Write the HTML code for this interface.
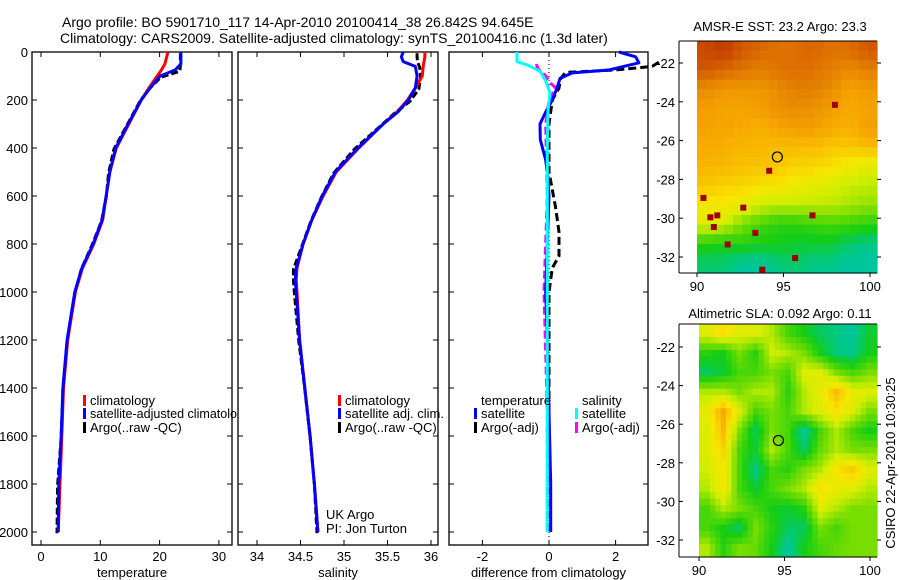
<!DOCTYPE html>
<html><head><meta charset="utf-8"><style>
html,body{margin:0;padding:0;background:#fff;}
svg{display:block;font-family:"Liberation Sans",sans-serif;}
</style></head><body>
<svg id="fig" width="900" height="580" viewBox="0 0 900 580">
<text x="62" y="27" font-size="14">Argo profile: BO 5901710_117 14-Apr-2010 20100414_38 26.842S 94.645E</text>
<text x="60" y="43" font-size="14">Climatology: CARS2009. Satellite-adjusted climatology: synTS_20100416.nc (1.3d later)</text>
<g id="layer"></g>
</svg>
<script>
// ---------- data ----------
const depthTicks=[0,200,400,600,800,1000,1200,1400,1600,1800,2000];
const tempTicks=[0,10,20,30];
const salTicks=[34,34.5,35,35.5,36];
const salTickLabels=["34","34.5","35","35.5","36"];
const diffTicks=[-2,0,2];
const tDepth=[0,50,75,100,150,200,300,400,500,600,700,800,900,1000,1200,1400,1600,1800,2000];
const tempSat=[23.6,23.6,22.6,20.1,18.4,16.9,14.7,12.6,11.6,11.0,10.3,8.8,6.9,5.7,4.4,3.7,3.4,3.0,2.9];
const tempClim=[21.4,20.9,20.3,19.6,18.2,16.9,14.8,12.7,11.6,11.0,10.4,8.9,7.0,5.8,4.5,3.8,3.5,3.2,2.9];
const tempArgo=[23.5,23.5,23.4,20.2,18.2,16.7,14.5,12.3,11.4,11.0,10.2,8.6,6.8,5.7,4.4,3.7,3.4,2.8,2.7];
const sDepth=[0,20,40,60,100,150,200,250,300,400,500,600,700,800,900,950,1000,1200,1400,1600,1800,2000];
const salSat=[35.68,35.66,35.68,35.82,35.84,35.82,35.74,35.62,35.45,35.16,34.90,34.75,34.63,34.53,34.45,34.44,34.45,34.49,34.55,34.61,34.66,34.70];
const salClim=[35.93,35.93,35.92,35.91,35.90,35.82,35.73,35.61,35.45,35.17,34.91,34.76,34.63,34.53,34.46,34.45,34.46,34.49,34.55,34.61,34.66,34.70];
const salArgo=[35.84,35.84,35.85,35.87,35.88,35.86,35.76,35.58,35.43,35.12,34.88,34.74,34.62,34.52,34.42,34.42,34.43,34.48,34.55,34.61,34.66,34.69];
const dtDepth=[0,20,45,75,87,110,150,200,250,300,365,450,500,600,800,1000,1200,1500,1800,2000];
const dTSat=[2.1,2.6,2.7,1.8,0.7,0.33,0.24,0.1,-0.1,-0.27,-0.26,-0.1,-0.05,0,-0.05,-0.1,-0.05,0,0.05,0.05];
const dtaDepth=[42,60,75,85,110,150,200,300,500,650,750,850,900,1000,1500,2000];
const dTArgo=[3.3,3.1,2.0,0.5,0.35,0.3,0.1,0,0,0.2,0.3,0.3,0.1,0,0,0];
const dsDepth=[0,40,55,80,120,170,240,400,1000,2000];
const dSSat=[-0.96,-0.96,-0.63,-0.27,-0.1,0.03,-0.03,-0.05,-0.05,-0.05];
const dsaDepth=[50,70,100,130,150,200,300,600,1000,1500,2000];
const dSArgo=[-0.38,-0.33,-0.1,0.05,0.2,0,-0.1,-0.05,-0.15,-0.05,-0.05];
const sstTicksLat=[-22,-24,-26,-28,-30,-32];
const lonTicks=[90,95,100];
const sstGrid=[
[.9,.92,.88,.86,.84,.85,.86,.84,.85,.88],
[.88,.86,.84,.82,.84,.85,.84,.82,.8,.82],
[.8,.78,.78,.78,.8,.82,.82,.8,.76,.78],
[.77,.76,.76,.77,.79,.8,.79,.77,.75,.76],
[.76,.76,.75,.74,.76,.77,.77,.75,.74,.77],
[.75,.74,.73,.73,.72,.72,.72,.7,.7,.72],
[.73,.73,.71,.71,.7,.68,.68,.66,.63,.6],
[.7,.68,.68,.66,.65,.63,.61,.59,.57,.56],
[.64,.65,.62,.58,.56,.56,.56,.56,.54,.52],
[.6,.58,.5,.45,.42,.42,.44,.45,.44,.42],
[.42,.4,.42,.4,.4,.38,.38,.38,.34,.32],
[.34,.34,.3,.3,.33,.34,.32,.32,.3,.3]];
const sstSpecksLon=[90.2,90.6,92.5,91.0,93.2,90.8,91.6,95.5,97.8,94.0,96.5,93.6];
const sstSpecksLat=[-28.8,-29.8,-29.3,-29.7,-30.6,-30.3,-31.2,-31.9,-24.0,-27.4,-29.7,-32.5];
const slaGrid=[
[.6,.66,.6,.6,.55,.45,.4,.35,.33,.3,.38],
[.42,.4,.5,.42,.58,.55,.5,.4,.33,.32,.4],
[.35,.38,.45,.45,.5,.45,.6,.6,.5,.45,.5],
[.55,.55,.5,.55,.55,.42,.55,.62,.72,.62,.6],
[.62,.75,.6,.45,.5,.45,.55,.6,.66,.6,.5],
[.6,.72,.5,.35,.5,.45,.3,.45,.55,.45,.4],
[.6,.68,.45,.38,.55,.45,.35,.48,.55,.5,.5],
[.58,.65,.45,.32,.45,.42,.5,.55,.65,.7,.6],
[.55,.65,.45,.38,.45,.5,.55,.66,.62,.6,.55],
[.45,.55,.5,.45,.4,.38,.42,.6,.55,.5,.5],
[.45,.4,.35,.5,.42,.35,.35,.5,.45,.5,.5],
[.55,.42,.5,.48,.4,.3,.4,.45,.48,.5,.5]];
// ---------- helpers ----------
const NS="http://www.w3.org/2000/svg";
const layer=document.getElementById('layer');
function mk(tag,attrs,parent){const e=document.createElementNS(NS,tag);for(const k in attrs)e.setAttribute(k,attrs[k]);(parent||layer).appendChild(e);return e;}
const yTop=52, pxPerM=0.24, yBot=545;
const yD=d=>yTop+d*pxPerM;
const xT=v=>41+v*5.93;
const xS=v=>257+(v-34)*87;
const xDf=v=>549+v*33.3;
function line(xs,ds,xf,color,dash,name){
  let p=xs.map((v,i)=>xf(v).toFixed(1)+','+yD(ds[i]).toFixed(1)).join(' ');
  const e=mk('polyline',{points:p,fill:'none',stroke:color,'stroke-width':3,'stroke-linejoin':'round'});
  if(dash)e.setAttribute('stroke-dasharray',dash);
  
  
}
function panel(x0,x1,ticks,xf,labels,name,xlabel){
  const g=mk('g',{});
  
  
  mk('rect',{x:x0,y:yTop,width:x1-x0,height:yBot-yTop,fill:'none',stroke:'#000','stroke-width':1.3},g);
  ticks.forEach((t,i)=>{const x=xf(t);
    mk('line',{x1:x,x2:x,y1:yBot,y2:yBot-5,stroke:'#000'},g);
    mk('line',{x1:x,x2:x,y1:yTop,y2:yTop+5,stroke:'#000'},g);
    const tx=mk('text',{x:x,y:yBot+16,'font-size':13,'text-anchor':'middle'},g);tx.textContent=labels[i];
    
    
  });
  depthTicks.forEach(d=>{const y=yD(d);
    mk('line',{x1:x0,x2:x0+5,y1:y,y2:y,stroke:'#000'},g);
    mk('line',{x1:x1,x2:x1-5,y1:y,y2:y,stroke:'#000'},g);});
  const xl=mk('text',{x:(x0+x1)/2,y:577,'font-size':13,'text-anchor':'middle'},g);xl.textContent=xlabel;
  
  
}
panel(32,232,tempTicks,xT,tempTicks.map(String),'temperature-panel','temperature');
panel(238,438,salTicks,xS,salTickLabels,'salinity-panel','salinity');
panel(449,648,diffTicks,xDf,diffTicks.map(String),'difference-panel','difference from climatology');
depthTicks.forEach(d=>{const t=mk('text',{x:28,y:yD(d)+5,'font-size':13,'text-anchor':'end'});t.textContent=d;
  
  });
const zl=mk('line',{x1:549,x2:549,y1:yTop,y2:yBot,stroke:'#000','stroke-dasharray':'1,3'});


line(tempArgo,tDepth.map(d=>d+5),xT,'#000','7,3','temp-argo-line');
line(tempClim,tDepth,xT,'#f00',null,'temp-climatology-line');
line(tempSat,tDepth,xT,'#00f',null,'temp-satellite-line');
line(salArgo,sDepth.map(d=>d+5),xS,'#000','7,3','sal-argo-line');
line(salClim,sDepth,xS,'#f00',null,'sal-climatology-line');
line(salSat,sDepth,xS,'#00f',null,'sal-satellite-line');
line(dTArgo,dtaDepth,xDf,'#000','8,4','diff-temp-argo-line');
line(dSArgo,dsaDepth,xDf,'#f0f','8,4','diff-sal-argo-line');
line(dTSat,dtDepth,xDf,'#00f',null,'diff-temp-satellite-line');
line(dSSat,dsDepth,xDf,'#0ff',null,'diff-sal-satellite-line');
function leg(x,y,color,txt,name,clipW){
  const m=mk('rect',{x:x,y:y-10,width:3,height:11,fill:color});
  
  
  if(txt){const t=mk('text',{x:x+7,y:y,'font-size':13});t.textContent=txt;
  if(clipW)t.setAttribute('textLength',clipW),t.setAttribute('lengthAdjust','spacingAndGlyphs');
  
  }
}
leg(83,405,'#f00','climatology','legend-temp-climatology');
leg(83,418,'#00f','satellite-adjusted climatolo','legend-temp-satellite',147);
leg(83,432,'#000','Argo(..raw -QC)','legend-temp-argo');
leg(338,405,'#f00','climatology','legend-sal-climatology');
leg(338,418,'#00f','satellite adj. clim.','legend-sal-satellite');
leg(338,432,'#000','Argo(..raw -QC)','legend-sal-argo');
function txt(x,y,s,name,extra){const t=mk('text',Object.assign({x:x,y:y,'font-size':13},extra||{}));t.textContent=s;
  
  return t;}
txt(481,405,'temperature','legend-temp-heading');
txt(582,405,'salinity','legend-sal-heading');
leg(474,418,'#00f','satellite','legend-diff-temp-satellite');
leg(474,432,'#000','Argo(-adj)','legend-diff-temp-argo');
leg(575,418,'#0ff','satellite','legend-diff-sal-satellite');
leg(575,432,'#f0f','Argo(-adj)','legend-diff-sal-argo');
txt(326,519,'UK Argo','uk-argo-label');
txt(326,533,'PI: Jon Turton','pi-label');
const stops=[[0,[0,0,192]],[0.25,[0,190,200]],[0.32,[0,200,140]],[0.4,[20,205,20]],[0.5,[120,222,0]],[0.58,[210,238,0]],[0.65,[248,230,0]],[0.75,[248,170,0]],[0.85,[220,110,0]],[1,[165,0,0]]];
function cmap(v){for(let i=1;i<stops.length;i++){if(v<=stops[i][0]){const a=stops[i-1],b=stops[i],f=(v-a[0])/(b[0]-a[0]);
  return 'rgb('+a[1].map((c,k)=>Math.round(c+(b[1][k]-c)*f)).join(',')+')';}}return 'rgb(165,0,0)';}
function sample(grid,r,c){ // bilinear sample at fractional cell coords (cell centres)
  const R=grid.length,C=grid[0].length;
  r=Math.max(0,Math.min(R-1,r));c=Math.max(0,Math.min(C-1,c));
  const r0=Math.floor(r),c0=Math.floor(c),r1=Math.min(R-1,r0+1),c1=Math.min(C-1,c0+1),fr=r-r0,fc=c-c0;
  return grid[r0][c0]*(1-fr)*(1-fc)+grid[r0][c1]*(1-fr)*fc+grid[r1][c0]*fr*(1-fc)+grid[r1][c1]*fr*fc;
}
function map(box,lonX,latY,grid,name,title,titleY,sub){
  const g=mk('g',{});
  
  
  const rows=grid.length, cols=grid[0].length;
  const x0=lonX(90),x1=box.r,y0=box.t,y1=box.b;
  const cw=(x1-x0)/cols/sub, ch=(y1-y0)/rows/sub;
  for(let r=0;r<rows*sub;r++)for(let c=0;c<cols*sub;c++){
    const v=sub===1?grid[r][c]:sample(grid,(r+0.5)/sub-0.5,(c+0.5)/sub-0.5);
    const cell=mk('rect',{x:(x0+c*cw).toFixed(1),y:(y0+r*ch).toFixed(1),width:(cw+0.6).toFixed(1),height:(ch+0.6).toFixed(1),fill:cmap(v)},g);
    
    
  }
  mk('line',{x1:box.l,x2:box.r,y1:box.t,y2:box.t,stroke:'#000'},g);
  mk('line',{x1:box.l,x2:box.r,y1:box.b,y2:box.b,stroke:'#000'},g);
  mk('line',{x1:box.l,x2:box.l,y1:box.t,y2:box.b,stroke:'#000'},g);
  sstTicksLat.forEach(l=>{const y=latY(l);
    mk('line',{x1:box.l,x2:box.l+4,y1:y,y2:y,stroke:'#000'},g);
    mk('line',{x1:box.r,x2:box.r+4,y1:y,y2:y,stroke:'#000'},g);
    const t=mk('text',{x:box.l-4,y:y+5,'font-size':13,'text-anchor':'end'},g);t.textContent=l;
    
    });
  lonTicks.forEach(l=>{const x=lonX(l);
    mk('line',{x1:x,x2:x,y1:box.b,y2:box.b+4,stroke:'#000'},g);
    const t=mk('text',{x:x,y:box.b+18,'font-size':13,'text-anchor':'middle'},g);t.textContent=l;
    
    });
  const tt=mk('text',{x:780,y:titleY,'font-size':13,'text-anchor':'middle'},g);tt.textContent=title;
  
  
  return {g,lonX,latY};
}
function marker(m){const c=mk('circle',{cx:m.lonX(94.645),cy:m.latY(-26.842),r:5,fill:'none',stroke:'#000','stroke-width':1.2},m.g);
  
  }
const sstLonX=l=>697+(l-90)*17.3, sstLatY=l=>63+(-22-l)*19.4;
const sst=map({l:679,r:877,t:41,b:273},sstLonX,sstLatY,sstGrid,'sst-map','AMSR-E SST: 23.2  Argo: 23.3',31,2);
sstSpecksLon.forEach((lo,i)=>{const s=mk('rect',{x:sstLonX(lo),y:sstLatY(sstSpecksLat[i]),width:6,height:6,fill:'#a00000'},sst.g);
  
  });
marker(sst);
const sla=map({l:679,r:877,t:324,b:557},l=>699+(l-90)*17.1,l=>347+(-22-l)*19.3,slaGrid,'sla-map','Altimetric SLA: 0.092  Argo: 0.11',318,3);
marker(sla);
txt(0,0,'CSIRO 22-Apr-2010 10:30:25','timestamp-label',{'text-anchor':'middle',transform:'translate(895,463) rotate(-90)'});
</script>
</body></html>
